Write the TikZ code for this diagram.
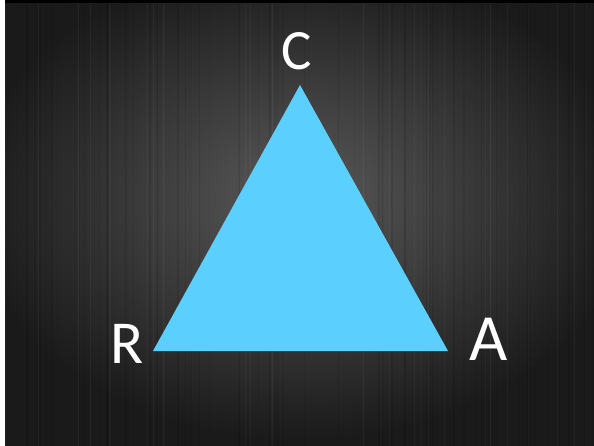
\documentclass[tikz,border=0pt]{standalone}
\usepackage{fontspec}
\setmainfont{Carlito}
\definecolor{bgdark}{HTML}{1A1A1A}
\definecolor{bgmid}{HTML}{5A5A5A}
\definecolor{tri}{HTML}{5BD0FF}
\tikzset{
  lbl/.style={text=white, inner sep=0pt},
}
\begin{document}
\begin{tikzpicture}[x=1pt,y=-1pt]
\useasboundingbox (0,0) rectangle (594,446);
\fill[white] (0,0) rectangle (594,446);
\begin{scope}
\clip (5,0) rectangle (594,446);
\fill[bgdark] (5,0) rectangle (594,446);
\shade[shading=radial, inner color=bgmid, outer color=bgdark] (-30,-40) rectangle (630,440);
\pgfmathsetseed{7}
\foreach \i in {1,...,70}{
  \pgfmathsetmacro{\xx}{5+rnd*589}
  \pgfmathsetmacro{\op}{0.03+rnd*0.07}
  \pgfmathsetmacro{\w}{0.5+rnd*2}
  \draw[black, opacity=\op, line width=\w] (\xx,0) -- (\xx,446);
}
\foreach \i in {1,...,30}{
  \pgfmathsetmacro{\xx}{5+rnd*589}
  \pgfmathsetmacro{\op}{0.02+rnd*0.03}
  \draw[white, opacity=\op, line width=0.8] (\xx,0) -- (\xx,446);
}
\fill[black] (5,0) rectangle (594,3);
\end{scope}
\coordinate (R) at (153,351);
\coordinate (A) at (448,351);
\coordinate (C) at (300,85);
\fill[tri] (R) -- (A) -- (C) -- cycle;
\node[lbl, font=\fontsize{57}{57}\selectfont] (lC) at (297,51) {C};
\node[lbl, font=\fontsize{61}{61}\selectfont] (lR) at (127,344) {R};
\node[lbl, font=\fontsize{66}{66}\selectfont] (lA) at (489,339) {A};
\end{tikzpicture}
\end{document}
